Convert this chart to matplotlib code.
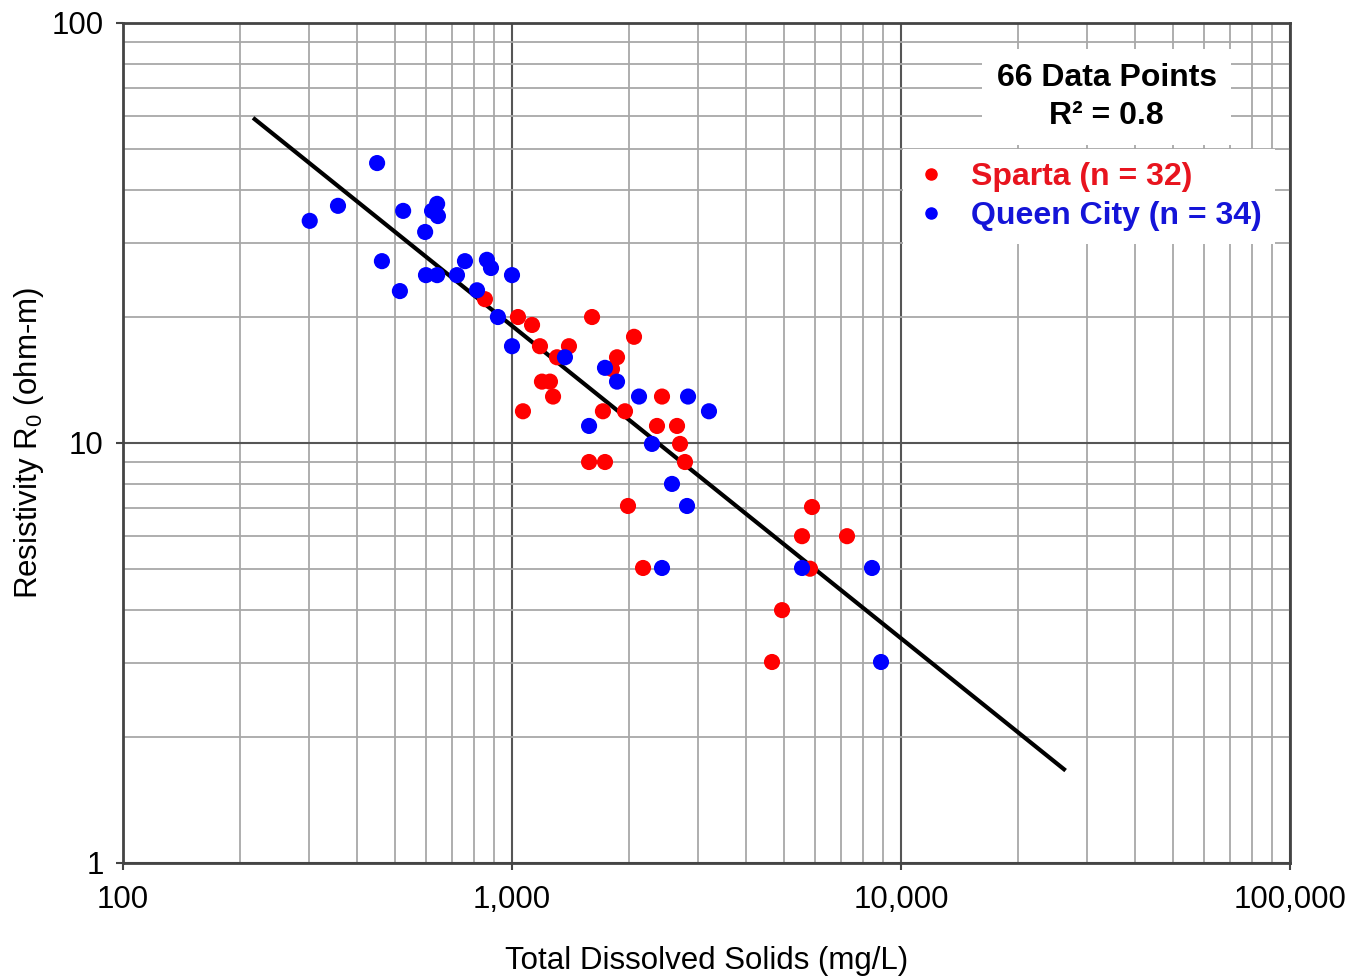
import matplotlib
matplotlib.use("Agg")
import matplotlib.pyplot as plt
from matplotlib.ticker import FixedLocator, FixedFormatter, LogLocator, NullFormatter
from matplotlib.lines import Line2D
import numpy as np

plt.rcParams['font.family'] = ['Liberation Sans', 'DejaVu Sans']
plt.rcParams['mathtext.fontset'] = 'custom'
plt.rcParams['mathtext.rm'] = 'Liberation Sans'
plt.rcParams['mathtext.it'] = 'Liberation Sans:italic'

# ---- data (TDS mg/L, resistivity ohm-m) ----
queen_tds = [302, 357, 450, 463, 515, 525, 598, 623, 642, 645, 601, 642, 722, 757,
             862, 883, 1000, 813, 920, 1000, 1368, 1734, 1862, 1578, 2121, 2835,
             3209, 2290, 2578, 2818, 2430, 5566, 8422, 8884]
queen_res = [33.8, 36.7, 46.4, 27.1, 23.0, 35.7, 31.8, 35.7, 37.1, 34.7, 25.1, 25.1, 25.1, 27.1,
             27.3, 26.1, 25.1, 23.1, 19.95, 17.0, 16.0, 15.1, 14.0, 10.98, 12.9, 12.9,
             11.9, 9.95, 7.99, 7.08, 5.04, 5.04, 5.04, 3.01]

sparta_tds = [852, 1036, 1126, 1180, 1401, 1305, 1606, 2059, 1862, 1807, 1194, 1252, 1275,
              1067, 2430, 1713, 1952, 2359, 2656, 2704, 2784, 1578, 1734, 1987, 2172,
              5905, 5566, 7264, 5836, 4945, 4660]
sparta_res = [22.0, 19.95, 19.1, 17.0, 17.0, 16.0, 19.95, 17.9, 16.0, 15.0, 14.0, 14.0, 12.9,
              11.9, 12.9, 11.9, 11.9, 10.98, 10.98, 9.95, 9.01, 9.01, 9.01, 7.08, 5.04,
              7.04, 6.0, 6.0, 5.02, 4.0, 3.01]

# power-law fit  R = a * TDS^b
fit_a = 3243.0
fit_b = -0.744
fit_range = [218, 26240]

x_ticks = [100, 1000, 10000, 100000]
x_labels = ["100", "1,000", "10,000", "100,000"]
y_ticks = [1, 10, 100]
y_labels = ["1", "10", "100"]

fig = plt.figure(figsize=(13.48, 9.76), dpi=100)
ax = fig.add_axes([123/1348, 1-863/976, (1290-123)/1348, (863-23)/976])
ax.set_xscale('log')
ax.set_yscale('log')
ax.set_xlim(100, 100000)
ax.set_ylim(1, 100)

ax.xaxis.set_major_locator(FixedLocator(x_ticks))
ax.xaxis.set_major_formatter(FixedFormatter(x_labels))
ax.yaxis.set_major_locator(FixedLocator(y_ticks))
ax.yaxis.set_major_formatter(FixedFormatter(y_labels))
ax.xaxis.set_minor_locator(LogLocator(base=10, subs=np.arange(2, 10)))
ax.yaxis.set_minor_locator(LogLocator(base=10, subs=np.arange(2, 10)))
ax.xaxis.set_minor_formatter(NullFormatter())
ax.yaxis.set_minor_formatter(NullFormatter())

ax.grid(which='major', color='#555555', lw=1.5)
ax.grid(which='minor', color='#a8a8a8', lw=1.3)
ax.set_axisbelow(True)
ax.tick_params(which='major', length=5, width=1.5, color='#444444', labelsize=22.5)
ax.tick_params(axis='x', which='major', pad=11)
ax.tick_params(axis='y', which='major', pad=9)
ax.tick_params(which='minor', length=0)
for s in ax.spines.values():
    s.set_color('#444444')
    s.set_linewidth(2)

fx = np.array(fit_range, dtype=float)
ax.plot(fx, fit_a * fx**fit_b, color='black', lw=3, zorder=3)

ax.scatter(sparta_tds, sparta_res, s=135, color='#ff0000', edgecolors='none', zorder=4)
ax.scatter(queen_tds, queen_res, s=135, color='#0000ff', edgecolors='none', zorder=5)

ax.set_xlabel("Total Dissolved Solids (mg/L)", fontsize=22.5, labelpad=22)
ax.set_ylabel(r"Resistivity R$_0$ (ohm-m)", fontsize=22.5, labelpad=4)

ax.text(0.843, 0.912, "66 Data Points\nR\u00b2 = 0.8", transform=ax.transAxes,
        ha='center', va='center', fontsize=23, fontweight='bold', linespacing=1.35,
        bbox=dict(boxstyle='square,pad=0.45', facecolor='white', edgecolor='none'), zorder=6)

handles = [Line2D([], [], ls='none', marker='o', ms=8, color='#ff0000'),
           Line2D([], [], ls='none', marker='o', ms=8, color='#0000ff')]
leg = ax.legend(handles, ["Sparta (n = 32)", "Queen City (n = 34)"],
                loc='upper left', bbox_to_anchor=(0.668, 0.85),
                prop={'size': 23, 'weight': 'bold'}, frameon=True, fancybox=False,
                framealpha=1, edgecolor='none', facecolor='white',
                handlelength=1.0, handletextpad=0.75, borderpad=0.4, labelspacing=0.28,
                borderaxespad=0)
leg.set_zorder(6)
for t, c in zip(leg.get_texts(), ['#e8141e', '#1414d8']):
    t.set_color(c)

fig.savefig("out.png", dpi=100)
